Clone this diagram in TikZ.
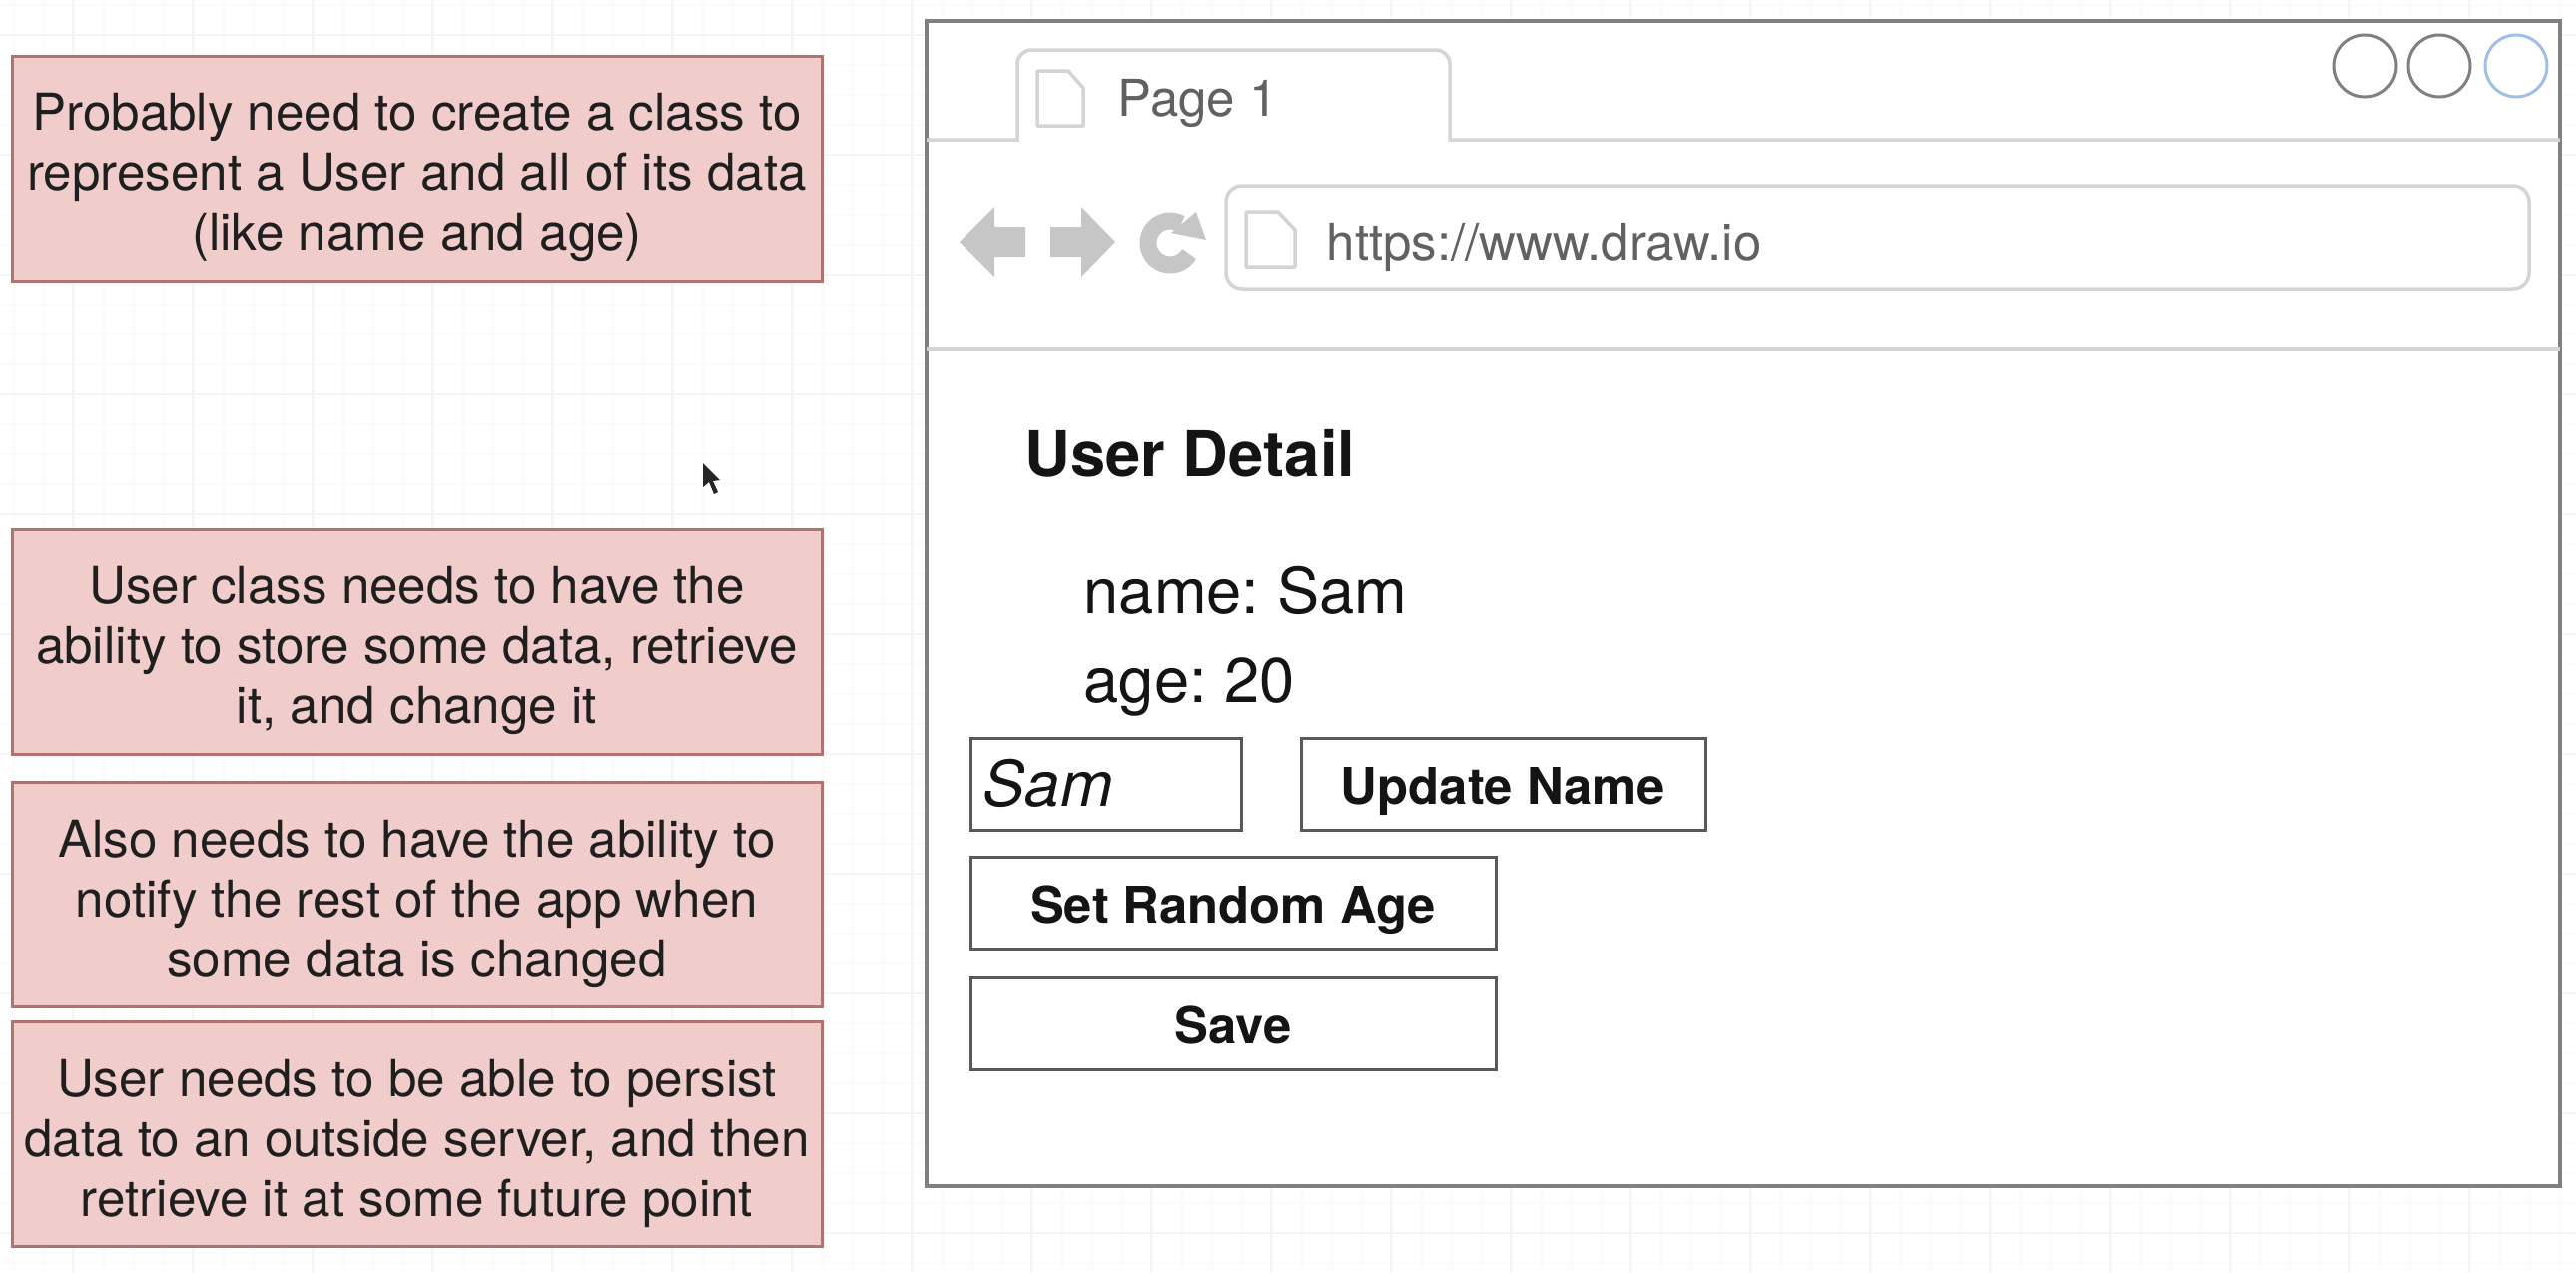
\documentclass[tikz,border=0pt]{standalone}
\usepackage{fontspec}
\setmainfont{TeX Gyre Heros}
\frenchspacing

\definecolor{notefill}{HTML}{F0CDCB}
\definecolor{noteline}{HTML}{B27270}
\definecolor{gridline}{HTML}{F5F5F5}
\definecolor{gridfine}{HTML}{FBFBFB}
\definecolor{iconfill}{HTML}{C6C6C6}
\definecolor{tabline}{HTML}{D4D4D4}
\definecolor{ctlblue}{HTML}{A0BFE6}
\newcommand{\noteroom}{\rule{0pt}{5.6mm}}

\begin{document}
\begin{tikzpicture}[x=0.1mm,y=-0.1mm,
        note/.style={rectangle,draw=noteline,line width=0.3mm,fill=notefill,minimum width=81.1mm,minimum height=22.5mm,inner sep=0pt,align=center,text=black!88,font=\fontsize{14.55}{17.07}\selectfont},
        btn/.style={rectangle,draw=black!65,line width=0.3mm,fill=white,minimum height=9.2mm,inner sep=0pt,text height=4mm,text depth=0mm,text=black!92,font=\fontsize{14.45}{17}\selectfont\bfseries},
        lbl/.style={anchor=base west,inner sep=0pt,text=black!92,font=\fontsize{18}{21}\selectfont},
        ctl/.style={circle,line width=0.3mm,fill=white,minimum size=6.2mm,inner sep=0pt},
        chrome/.style={anchor=base west,inner sep=0pt,text=black!62,font=\fontsize{14.5}{17}\selectfont},
        pageicon/.style={draw=tabline,line width=0.35mm,fill=white,line join=round}]
            \useasboundingbox (0,0) rectangle (2580,1274);
            \fill[white] (0,0) rectangle (2580,1274);

            % faint page grid
            \foreach \gx in {14,44,...,2574} {
                \draw[gridfine,line width=0.2mm] (\gx,0) -- (\gx,1274);
            }
            \foreach \gy in {5,35,...,1274} {
                \draw[gridfine,line width=0.2mm] (0,\gy) -- (2580,\gy);
            }
            \foreach \gx in {73,193,...,2574} {
                \draw[gridline,line width=0.2mm] (\gx,0) -- (\gx,1274);
            }
            \foreach \gy in {35,155,...,1274} {
                \draw[gridline,line width=0.2mm] (0,\gy) -- (2580,\gy);
            }

            % notes
            \node (noteclass) at (417.5,168.5) [note] {\noteroom Probably need to create a class to\\represent a User and all of its data\\(like name and age)};
            \node (notestore) at (417.5,642.5) [note] {\noteroom User class needs to have the\\ability to store some data, retrieve\\it, and change it};
            \node (notenotify) at (417.5,896) [note] {\noteroom Also needs to have the ability to\\notify the rest of the app when\\some data is changed};
            \node (notepersist) at (417.5,1136) [note] {\noteroom User needs to be able to persist\\data to an outside server, and then\\retrieve it at some future point};

            % mouse pointer
            \fill[black!85] (704,464) -- (704,488) -- (710,483) -- (715,495) -- (719,493) -- (714,482) -- (721,481) -- cycle;

            % browser window
            \node (window) at (1746,604.5) [rectangle,draw=black!50,line width=0.4mm,fill=white,minimum width=163.6mm,minimum height=116.7mm,inner sep=0pt] {};
            \draw[tabline,line width=0.35mm,shorten <=0.2mm,shorten >=0.2mm] (window.west |- 0,140) -- (1019,140) [rounded corners=1.4mm] -- (1019,50) -- (1452,50) [sharp corners] -- (1452,140) -- (window.east |- 0,140);
            \draw[tabline,line width=0.35mm,shorten <=0.2mm,shorten >=0.2mm] (window.west |- 0,350) -- (window.east |- 0,350);

            \draw[pageicon] (1039,71) -- (1070,71) -- (1085,88) -- (1085,126) -- (1039,126) -- cycle;
            \node (tabtext) at (1119,116) [chrome] {Page 1};

            % navigation icons
            \fill[iconfill] (961,242) -- (996,207) -- (996,227) -- (1027,227) -- (1027,257) -- (996,257) -- (996,277) -- cycle;
            \fill[iconfill] (1117,242) -- (1083,207) -- (1083,227) -- (1052,227) -- (1052,257) -- (1083,257) -- (1083,277) -- cycle;
            \draw[iconfill,line width=1.7mm] (1172,243) ++(-60:22) arc[start angle=-60,end angle=-330,radius=22];
            \fill[iconfill] (1198,212) -- (1208,240) -- (1173,233) -- cycle;

            % address bar
            \node (address) at (1880.5,237.5) [rectangle,rounded corners=1.6mm,draw=tabline,line width=0.35mm,fill=white,minimum width=130.5mm,minimum height=10.3mm,inner sep=0pt] {};
            \draw[pageicon] (1248,212) -- (1280,212) -- (1297,230) -- (1297,267) -- (1248,267) -- cycle;
            \node (urltext) at (1328,260) [chrome] {https://www.draw.io};

            % window controls
            \node (ctlmin) at (2369,66) [ctl,draw=black!50] {};
            \node (ctlmax) at (2443,66) [ctl,draw=black!50] {};
            \node (ctlclose) at (2520,66) [ctl,draw=ctlblue] {};

            % page content
            \node (title) at (1026,477) [lbl,font=\fontsize{18}{21}\selectfont\bfseries] {User Detail};
            \node (namelbl) at (1085,614) [lbl] {name: Sam};
            \node (agelbl) at (1085,703) [lbl] {age: 20};

            \node (namebox) at (1107.5,785) [btn,minimum width=27.1mm] {};
            \node (nametext) at (984,807) [lbl,font=\fontsize{18}{21}\selectfont\itshape] {Sam};
            \node (updatebtn) at (1505.5,785) [btn,minimum width=40.5mm] {Update Name};
            \node (agebtn) at (1235,904) [btn,minimum width=52.6mm] {Set Random Age};
            \node (savebtn) at (1235,1025) [btn,minimum width=52.6mm] {Save};
        \end{tikzpicture}
\end{document}
